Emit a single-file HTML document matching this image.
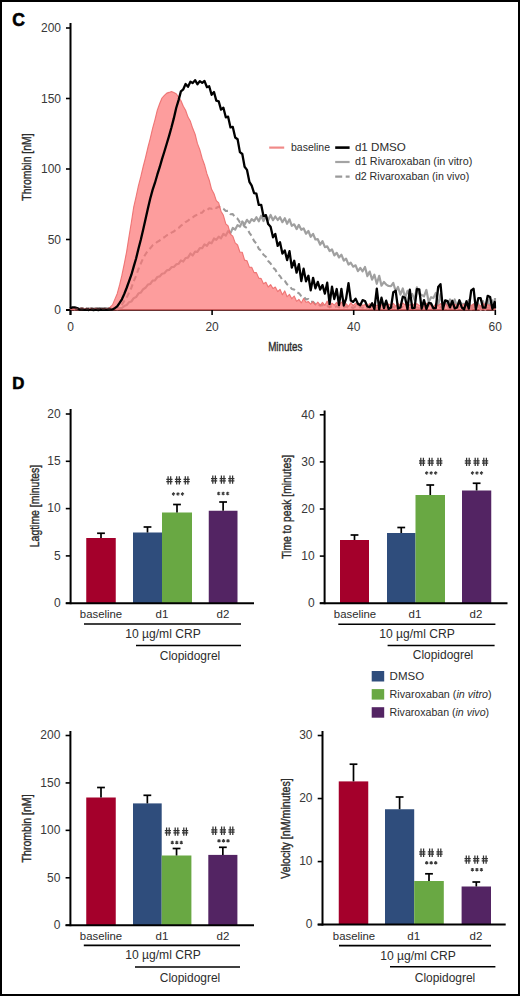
<!DOCTYPE html>
<html><head><meta charset="utf-8"><style>
html,body{margin:0;padding:0;background:#fff;}
body{width:520px;height:996px;overflow:hidden;}
svg{display:block;font-family:"Liberation Sans", sans-serif;}
</style></head><body>
<svg width="520" height="996" viewBox="0 0 520 996">
<rect x="0" y="0" width="520" height="996" fill="#fff"/>
<line x1="70.50" y1="23.00" x2="70.50" y2="315.00" stroke="#000" stroke-width="2"/>
<line x1="66.00" y1="310.00" x2="496.00" y2="310.00" stroke="#000" stroke-width="2"/>
<polyline points="70.0,309.3 72.4,308.3 74.7,309.3 77.1,308.4 79.4,309.1 81.8,308.1 84.2,309.6 86.5,308.7 88.9,309.6 91.2,308.5 93.6,309.2 96.0,308.1 98.3,309.5 100.7,308.0 103.0,308.8 105.4,308.1 107.8,309.2 110.1,308.1 112.5,309.3 114.8,308.3 117.2,309.2 119.6,308.2 121.9,308.0 124.3,306.1 126.6,305.1 129.0,302.2 131.4,301.5 133.7,298.2 136.1,297.1 138.4,293.6 140.8,292.6 143.2,289.2 145.5,287.8 147.9,284.6 150.2,284.0 152.6,280.7 155.0,280.3 157.3,277.0 159.7,276.4 162.0,273.8 164.4,273.2 166.8,270.4 169.1,269.9 171.5,267.2 173.8,266.9 176.2,264.4 178.6,263.8 180.9,260.4 183.3,261.5 185.6,258.0 188.0,257.6 190.4,253.5 192.7,255.5 195.1,251.7 197.4,251.8 199.8,248.1 202.2,248.1 204.5,244.4 206.9,245.8 209.2,242.4 211.6,243.3 214.0,238.5 216.3,239.8 218.7,236.7 221.0,238.3 223.4,233.9 225.8,235.6 228.1,231.2 230.5,233.1 232.8,227.9 235.2,229.6 237.6,225.1 239.9,226.7 242.3,221.4 244.6,224.6 247.0,219.8 249.4,222.9 251.7,219.1 254.1,221.1 256.4,217.2 258.8,221.3 261.2,215.7 263.5,221.1 265.9,216.1 268.2,220.3 270.6,215.0 273.0,220.2 275.3,216.5 277.7,220.0 280.0,217.2 282.4,222.2 284.8,218.2 287.1,223.8 289.5,219.3 291.8,225.8 294.2,224.3 296.6,229.1 298.9,224.9 301.3,229.8 303.6,228.3 306.0,233.7 308.4,231.0 310.7,236.8 313.1,233.9 315.4,239.5 317.8,239.2 320.2,244.7 322.5,241.2 324.9,247.1 327.2,246.3 329.6,251.1 332.0,249.3 334.3,255.4 336.7,252.8 339.0,257.4 341.4,254.7 343.8,260.7 346.1,258.7 348.5,264.6 350.8,262.7 353.2,266.7 355.6,265.3 357.9,271.2 360.3,268.0 362.6,271.3 365.0,267.0 367.4,276.1 369.7,271.6 372.1,279.6 374.4,274.7 376.8,283.8 379.2,275.8 381.5,285.7 383.9,282.0 386.2,284.6 388.6,286.0 391.0,286.1 393.3,283.0 395.7,291.3 398.0,287.0 400.4,294.7 402.8,288.5 405.1,297.7 407.5,290.8 409.8,295.9 412.2,294.0 414.6,299.8 416.9,287.3 419.3,293.8 421.6,294.9 424.0,296.4 426.4,290.0 428.7,302.1 431.1,297.2 433.4,298.1 435.8,292.9 438.2,305.4 440.5,294.2 442.9,306.1 445.2,301.4 447.6,306.1 450.0,299.5 452.3,305.3 454.7,299.5 457.0,306.8 459.4,300.6 461.8,304.2 464.1,303.8 466.5,304.7 468.8,300.0 471.2,309.3 473.6,304.5 475.9,306.1 478.3,303.6 480.6,310.0 483.0,301.0 485.4,309.8 487.7,299.2 490.1,307.8 492.4,300.3 494.8,310.0 495.0,298.1" fill="none" stroke="#A0A0A0" stroke-width="2.2" stroke-linejoin="round"/>
<polyline points="70.0,308.8 72.4,308.3 74.7,308.9 77.1,308.1 79.4,308.9 81.8,308.2 84.2,308.8 86.5,308.2 88.9,308.8 91.2,308.2 93.6,308.6 96.0,308.3 98.3,308.6 100.7,308.1 103.0,308.7 105.4,308.2 107.8,308.7 110.1,308.3 112.5,308.6 114.8,308.3 117.2,308.6 119.6,306.6 121.9,304.6 124.3,300.9 126.6,297.6 129.0,292.7 131.4,287.7 133.7,281.3 136.1,275.8 138.4,269.2 140.8,263.6 143.2,258.0 145.5,254.3 147.9,250.6 150.2,248.3 152.6,245.3 155.0,243.8 157.3,241.8 159.7,240.5 162.0,238.4 164.4,237.2 166.8,235.3 169.1,234.6 171.5,232.6 173.8,231.5 176.2,229.5 178.6,228.1 180.9,225.7 183.3,224.4 185.6,222.1 188.0,220.7 190.4,218.5 192.7,217.4 195.1,215.7 197.4,214.6 199.8,212.9 202.2,212.7 204.5,209.9 206.9,210.3 209.2,208.2 211.6,208.8 214.0,207.2 216.3,208.0 218.7,206.6 221.0,208.3 223.4,208.7 225.8,211.0 228.1,210.9 230.5,214.2 232.8,214.1 235.2,217.6 237.6,218.7 239.9,222.4 242.3,223.2 244.6,226.6 247.0,228.1 249.4,232.8 251.7,235.9 254.1,241.1 256.4,243.5 258.8,248.9 261.2,250.7 263.5,254.8 265.9,256.7 268.2,261.1 270.6,263.4 273.0,267.6 275.3,269.6 277.7,274.3 280.0,276.0 282.4,280.1 284.8,280.9 287.1,284.3 289.5,285.7 291.8,289.0 294.2,289.6 296.6,292.2 298.9,293.2 301.3,296.2 303.6,296.4 306.0,299.5 308.4,299.0 310.7,301.7 313.1,301.9 315.4,304.3 317.8,303.8 320.2,305.7 322.5,305.0 324.9,306.4 327.2,306.1 329.6,307.4 332.0,306.2 334.3,307.1 336.7,306.3 339.0,307.4 341.4,306.7 343.8,307.5 346.1,306.3 348.5,308.0 350.8,306.8 353.2,308.0 355.6,306.4 357.9,308.1 360.3,306.9 362.6,307.7 365.0,306.6 367.4,308.4 369.7,307.2 372.1,307.9 374.4,306.7 376.8,308.3 379.2,307.0 381.5,307.9 383.9,307.3 386.2,308.3 388.6,306.8 391.0,308.6 393.3,306.8 395.7,308.2 398.0,306.8 400.4,307.9 402.8,306.9 405.1,308.5 407.5,307.4 409.8,308.3 412.2,307.3 414.6,308.2 416.9,307.3 419.3,308.2 421.6,307.4 424.0,308.5 426.4,307.5 428.7,308.5 431.1,307.4 433.4,308.5 435.8,307.3 438.2,308.4 440.5,307.1 442.9,308.2 445.2,307.5 447.6,308.7 450.0,307.2 452.3,308.2 454.7,307.0 457.0,308.8 459.4,307.0 461.8,308.7 464.1,307.6 466.5,308.8 468.8,307.2 471.2,308.9 473.6,307.2 475.9,308.1 478.3,306.9 480.6,308.3 483.0,307.1 485.4,308.5 487.7,307.6 490.1,308.3 492.4,307.2 494.8,308.5 495.0,307.2" fill="none" stroke="#9A9A9A" stroke-width="2.1" stroke-dasharray="5.5 3.5" stroke-linejoin="round"/>
<polygon points="70,310 70.0,308.8 72.4,308.1 74.7,309.0 77.1,308.5 79.4,308.8 81.8,308.1 84.2,309.0 86.5,308.4 88.9,309.0 91.2,308.4 93.6,309.1 96.0,308.4 98.3,309.1 100.7,308.6 103.0,309.2 105.4,308.6 107.8,309.1 110.1,307.1 112.5,304.9 114.8,299.4 117.2,293.7 119.6,284.9 121.9,275.2 124.3,263.6 126.6,251.8 129.0,236.6 131.4,222.0 133.7,207.2 136.1,196.5 138.4,185.9 140.8,176.7 143.2,166.5 145.5,157.6 147.9,147.5 150.2,138.6 152.6,128.3 155.0,119.6 157.3,110.2 159.7,103.5 162.0,98.0 164.4,95.3 166.8,93.1 169.1,92.4 171.5,91.6 173.8,92.6 176.2,93.8 178.6,97.1 180.9,100.5 183.3,106.2 185.6,110.2 188.0,117.1 190.4,121.3 192.7,128.3 195.1,134.1 197.4,143.4 199.8,149.6 202.2,158.4 204.5,164.7 206.9,173.7 209.2,180.0 211.6,189.3 214.0,193.7 216.3,200.6 218.7,202.9 221.0,211.2 223.4,215.3 225.8,223.8 228.1,225.8 230.5,234.3 232.8,236.1 235.2,242.9 237.6,245.0 239.9,252.0 242.3,252.3 244.6,260.1 247.0,260.8 249.4,267.1 251.7,267.2 254.1,272.6 256.4,272.6 258.8,278.1 261.2,278.6 263.5,283.8 265.9,282.3 268.2,287.0 270.6,284.6 273.0,288.5 275.3,287.0 277.7,291.6 280.0,289.3 282.4,294.8 284.8,290.9 287.1,296.7 289.5,294.4 291.8,298.7 294.2,296.0 296.6,301.3 298.9,299.4 301.3,302.9 303.6,298.6 306.0,302.2 308.4,301.6 310.7,304.1 313.1,301.7 315.4,305.0 317.8,302.1 320.2,305.1 322.5,302.4 324.9,305.3 327.2,301.1 329.6,307.2 332.0,303.1 334.3,305.2 336.7,302.4 339.0,305.3 341.4,302.0 343.8,304.8 346.1,303.7 348.5,306.4 350.8,302.7 353.2,305.6 355.6,303.2 357.9,305.6 360.3,303.2 362.6,305.5 365.0,304.5 367.4,306.3 369.7,303.7 372.1,305.8 374.4,303.3 376.8,305.8 379.2,304.2 381.5,304.9 383.9,303.5 386.2,305.9 388.6,304.1 391.0,305.3 393.3,303.3 395.7,306.4 398.0,303.4 400.4,305.4 402.8,302.9 405.1,304.8 407.5,303.7 409.8,305.3 412.2,303.3 414.6,305.6 416.9,303.6 419.3,305.7 421.6,303.8 424.0,306.8 426.4,303.3 428.7,306.4 431.1,304.3 433.4,307.2 435.8,303.6 438.2,305.9 440.5,303.6 442.9,305.4 445.2,303.2 447.6,306.0 450.0,303.7 452.3,305.9 454.7,303.8 457.0,305.7 459.4,304.2 461.8,305.6 464.1,304.1 466.5,306.9 468.8,305.0 471.2,305.5 473.6,303.9 475.9,306.8 478.3,304.6 480.6,306.1 483.0,303.1 485.4,305.1 487.7,304.7 490.1,305.4 492.4,304.6 494.8,306.6 495.0,304.1 495,310" fill="#FC7473" fill-opacity="0.7" stroke="#EC6C6C" stroke-opacity="0.9" stroke-width="1.1" stroke-linejoin="round"/>
<polyline points="70.0,308.3 72.4,307.4 74.7,307.4 77.1,308.1 79.4,309.5 81.8,309.7 84.2,309.8 86.5,309.7 88.9,310.0 91.2,309.5 93.6,310.0 96.0,309.7 98.3,310.0 100.7,309.5 103.0,309.9 105.4,309.6 107.8,309.8 110.1,309.7 112.5,309.5 114.8,308.2 117.2,306.4 119.6,302.9 121.9,299.3 124.3,293.9 126.6,288.0 129.0,281.3 131.4,274.7 133.7,266.6 136.1,258.5 138.4,249.0 140.8,239.7 143.2,229.4 145.5,219.3 147.9,208.5 150.2,198.8 152.6,189.9 155.0,182.7 157.3,174.7 159.7,167.2 162.0,159.1 164.4,151.5 166.8,143.5 169.1,135.8 171.5,127.3 173.8,118.4 176.2,108.0 178.6,100.1 180.9,91.4 183.3,89.3 185.6,84.0 188.0,86.8 190.4,81.7 192.7,83.1 195.1,80.1 197.4,84.3 199.8,81.1 202.2,82.9 204.5,81.0 206.9,87.2 209.2,86.3 211.6,94.8 214.0,92.0 216.3,100.6 218.7,101.3 221.0,109.6 223.4,107.7 225.8,117.3 228.1,116.7 230.5,127.4 232.8,126.9 235.2,137.5 237.6,139.2 239.9,152.1 242.3,154.0 244.6,166.8 247.0,169.9 249.4,181.8 251.7,185.6 254.1,193.2 256.4,193.7 258.8,204.9 261.2,204.8 263.5,216.2 265.9,215.1 268.2,224.1 270.6,226.8 273.0,237.3 275.3,234.0 277.7,245.9 280.0,242.2 282.4,253.6 284.8,250.5 287.1,260.1 289.5,251.2 291.8,267.5 294.2,260.8 296.6,272.7 298.9,264.2 301.3,281.0 303.6,268.6 306.0,281.4 308.4,275.7 310.7,290.4 313.1,277.8 315.4,288.3 317.8,281.9 320.2,289.6 322.5,285.1 324.9,293.6 327.2,282.7 329.6,304.2 332.0,286.7 334.3,299.1 336.7,289.0 339.0,305.1 341.4,288.8 343.8,305.5 346.1,298.7 348.5,283.1 350.8,300.5 353.2,301.9 355.6,298.6 357.9,303.7 360.3,305.2 362.6,300.1 365.0,301.0 367.4,306.5 369.7,307.2 372.1,303.3 374.4,309.1 376.8,288.6 379.2,309.4 381.5,297.7 383.9,308.1 386.2,300.7 388.6,308.9 391.0,307.5 393.3,292.2 395.7,290.8 398.0,308.5 400.4,307.5 402.8,296.7 405.1,297.7 407.5,309.2 409.8,289.7 412.2,308.1 414.6,307.9 416.9,289.1 419.3,289.4 421.6,308.6 424.0,300.1 426.4,309.0 428.7,303.0 431.1,303.5 433.4,308.3 435.8,308.0 438.2,287.0 440.5,284.1 442.9,309.2 445.2,300.3 447.6,301.1 450.0,307.4 452.3,300.8 454.7,308.4 457.0,307.5 459.4,300.3 461.8,307.5 464.1,309.4 466.5,301.3 468.8,308.6 471.2,290.4 473.6,288.8 475.9,309.3 478.3,298.2 480.6,298.1 483.0,307.6 485.4,307.7 487.7,295.8 490.1,297.0 492.4,308.9 494.8,302.0 495.0,308.4" fill="none" stroke="#000" stroke-width="2.3" stroke-linejoin="round"/>
<line x1="75" y1="308.6" x2="112" y2="308.6" stroke="#4a2a2a" stroke-width="1.6" stroke-dasharray="3.2 2.2"/>
<line x1="66.00" y1="310.00" x2="70.00" y2="310.00" stroke="#000" stroke-width="1.6"/>
<text x="61.00" y="314.30" font-size="12" text-anchor="end" font-weight="normal" fill="#383838">0</text>
<line x1="66.00" y1="239.50" x2="70.00" y2="239.50" stroke="#000" stroke-width="1.6"/>
<text x="61.00" y="243.80" font-size="12" text-anchor="end" font-weight="normal" fill="#383838">50</text>
<line x1="66.00" y1="169.00" x2="70.00" y2="169.00" stroke="#000" stroke-width="1.6"/>
<text x="61.00" y="173.30" font-size="12" text-anchor="end" font-weight="normal" fill="#383838">100</text>
<line x1="66.00" y1="98.50" x2="70.00" y2="98.50" stroke="#000" stroke-width="1.6"/>
<text x="61.00" y="102.80" font-size="12" text-anchor="end" font-weight="normal" fill="#383838">150</text>
<line x1="66.00" y1="28.00" x2="70.00" y2="28.00" stroke="#000" stroke-width="1.6"/>
<text x="61.00" y="32.30" font-size="12" text-anchor="end" font-weight="normal" fill="#383838">200</text>
<line x1="70.50" y1="310.00" x2="70.50" y2="315.00" stroke="#000" stroke-width="1.6"/>
<text x="70.50" y="330.50" font-size="12" text-anchor="middle" font-weight="normal" fill="#383838">0</text>
<line x1="212.10" y1="310.00" x2="212.10" y2="315.00" stroke="#000" stroke-width="1.6"/>
<text x="212.10" y="330.50" font-size="12" text-anchor="middle" font-weight="normal" fill="#383838">20</text>
<line x1="353.70" y1="310.00" x2="353.70" y2="315.00" stroke="#000" stroke-width="1.6"/>
<text x="353.70" y="330.50" font-size="12" text-anchor="middle" font-weight="normal" fill="#383838">40</text>
<line x1="495.30" y1="310.00" x2="495.30" y2="315.00" stroke="#000" stroke-width="1.6"/>
<text x="495.30" y="330.50" font-size="12" text-anchor="middle" font-weight="normal" fill="#383838">60</text>
<text x="285.30" y="351.00" font-size="13.4" text-anchor="middle" font-weight="normal" fill="#2c2c2c" textLength="34.30" lengthAdjust="spacingAndGlyphs" stroke="#2c2c2c" stroke-width="0.4">Minutes</text>
<text transform="translate(31.00,167.00) rotate(-90)" x="0" y="0" font-size="13.4" text-anchor="middle" font-weight="normal" fill="#2c2c2c" stroke="#2c2c2c" stroke-width="0.4" textLength="67.30" lengthAdjust="spacingAndGlyphs">Thrombin [nM]</text>
<text x="12.20" y="25.60" font-size="17.5" text-anchor="start" font-weight="bold" fill="#000" stroke="#000" stroke-width="0.6">C</text>
<line x1="269.20" y1="147.60" x2="284.20" y2="147.60" stroke="#F08A88" stroke-width="2.2"/>
<text x="291.00" y="151.00" font-size="10.5" text-anchor="start" font-weight="normal" fill="#2c2c2c" textLength="39.00" lengthAdjust="spacingAndGlyphs">baseline</text>
<line x1="335.20" y1="147.60" x2="349.60" y2="147.60" stroke="#000" stroke-width="2.6"/>
<text x="354.90" y="151.00" font-size="11" text-anchor="start" font-weight="normal" fill="#2c2c2c" textLength="51.00" lengthAdjust="spacingAndGlyphs">d1 DMSO</text>
<line x1="335.20" y1="162.00" x2="349.60" y2="162.00" stroke="#A3A3A3" stroke-width="2.2"/>
<text x="354.90" y="165.30" font-size="11" text-anchor="start" font-weight="normal" fill="#2c2c2c" textLength="117.40" lengthAdjust="spacingAndGlyphs">d1 Rivaroxaban (in vitro)</text>
<line x1="335.20" y1="176.70" x2="349.60" y2="176.70" stroke="#9A9A9A" stroke-width="2.2" stroke-dasharray="7 3.5"/>
<text x="354.90" y="179.80" font-size="11" text-anchor="start" font-weight="normal" fill="#2c2c2c" textLength="114.30" lengthAdjust="spacingAndGlyphs">d2 Rivaroxaban (in vivo)</text>
<text x="12.20" y="388.50" font-size="16.8" text-anchor="start" font-weight="bold" fill="#000" stroke="#000" stroke-width="0.6">D</text>
<rect x="86.25" y="538.00" width="29.50" height="65.20" fill="#A4002B"/>
<line x1="101.00" y1="538.00" x2="101.00" y2="533.25" stroke="#000" stroke-width="1.7"/>
<line x1="97.10" y1="533.25" x2="104.90" y2="533.25" stroke="#000" stroke-width="1.7"/>
<rect x="133.00" y="532.50" width="29.00" height="70.70" fill="#2F4D7C"/>
<line x1="147.50" y1="532.50" x2="147.50" y2="527.00" stroke="#000" stroke-width="1.7"/>
<line x1="143.60" y1="527.00" x2="151.40" y2="527.00" stroke="#000" stroke-width="1.7"/>
<rect x="162.00" y="512.50" width="30.00" height="90.70" fill="#69A843"/>
<line x1="177.00" y1="512.50" x2="177.00" y2="504.50" stroke="#000" stroke-width="1.7"/>
<line x1="173.10" y1="504.50" x2="180.90" y2="504.50" stroke="#000" stroke-width="1.7"/>
<rect x="208.75" y="510.75" width="28.75" height="92.45" fill="#532463"/>
<line x1="223.12" y1="510.75" x2="223.12" y2="502.00" stroke="#000" stroke-width="1.7"/>
<line x1="219.22" y1="502.00" x2="227.03" y2="502.00" stroke="#000" stroke-width="1.7"/>
<line x1="70.60" y1="409.00" x2="70.60" y2="604.20" stroke="#000" stroke-width="2"/>
<line x1="65.80" y1="603.20" x2="254.00" y2="603.20" stroke="#000" stroke-width="2"/>
<line x1="65.80" y1="603.20" x2="70.60" y2="603.20" stroke="#000" stroke-width="1.6"/>
<text x="60.60" y="607.00" font-size="12" text-anchor="end" font-weight="normal" fill="#383838">0</text>
<line x1="65.80" y1="555.90" x2="70.60" y2="555.90" stroke="#000" stroke-width="1.6"/>
<text x="60.60" y="559.70" font-size="12" text-anchor="end" font-weight="normal" fill="#383838">5</text>
<line x1="65.80" y1="508.60" x2="70.60" y2="508.60" stroke="#000" stroke-width="1.6"/>
<text x="60.60" y="512.40" font-size="12" text-anchor="end" font-weight="normal" fill="#383838">10</text>
<line x1="65.80" y1="461.30" x2="70.60" y2="461.30" stroke="#000" stroke-width="1.6"/>
<text x="60.60" y="465.10" font-size="12" text-anchor="end" font-weight="normal" fill="#383838">15</text>
<line x1="65.80" y1="414.00" x2="70.60" y2="414.00" stroke="#000" stroke-width="1.6"/>
<text x="60.60" y="417.80" font-size="12" text-anchor="end" font-weight="normal" fill="#383838">20</text>
<text transform="translate(38.50,506.00) rotate(-90)" x="0" y="0" font-size="13.6" text-anchor="middle" font-weight="normal" fill="#2c2c2c" stroke="#2c2c2c" stroke-width="0.4" textLength="82.50" lengthAdjust="spacingAndGlyphs">Lagtime [minutes]</text>
<text x="101.00" y="618.30" font-size="11.5" text-anchor="middle" font-weight="normal" fill="#2c2c2c" textLength="42.30" lengthAdjust="spacingAndGlyphs">baseline</text>
<text x="162.00" y="618.30" font-size="11.5" text-anchor="middle" font-weight="normal" fill="#2c2c2c">d1</text>
<text x="223.00" y="618.30" font-size="11.5" text-anchor="middle" font-weight="normal" fill="#2c2c2c">d2</text>
<line x1="84.00" y1="624.00" x2="241.00" y2="624.00" stroke="#000" stroke-width="1.6"/>
<text x="163.00" y="637.50" font-size="12" text-anchor="middle" font-weight="normal" fill="#2c2c2c" textLength="75.50" lengthAdjust="spacingAndGlyphs">10 µg/ml CRP</text>
<line x1="136.00" y1="645.50" x2="241.00" y2="645.50" stroke="#000" stroke-width="1.6"/>
<text x="190.00" y="659.50" font-size="12" text-anchor="middle" font-weight="normal" fill="#2c2c2c" textLength="60.50" lengthAdjust="spacingAndGlyphs">Clopidogrel</text>
<path d="M168.10,476.20V484.60M170.70,476.20V484.60M166.30,479.48H172.50M166.30,481.74H172.50" stroke="#333" stroke-width="1.25" fill="none"/>
<path d="M176.70,476.20V484.60M179.30,476.20V484.60M174.90,479.48H181.10M174.90,481.74H181.10" stroke="#333" stroke-width="1.25" fill="none"/>
<path d="M185.30,476.20V484.60M187.90,476.20V484.60M183.50,479.48H189.70M183.50,481.74H189.70" stroke="#333" stroke-width="1.25" fill="none"/>
<path d="M173.50,492.25L173.50,495.75M171.98,493.12L175.02,494.88M175.02,493.12L171.98,494.88" stroke="#3a3a3a" stroke-width="1.1" fill="none"/>
<path d="M178.00,492.25L178.00,495.75M176.48,493.12L179.52,494.88M179.52,493.12L176.48,494.88" stroke="#3a3a3a" stroke-width="1.1" fill="none"/>
<path d="M182.50,492.25L182.50,495.75M180.98,493.12L184.02,494.88M184.02,493.12L180.98,494.88" stroke="#3a3a3a" stroke-width="1.1" fill="none"/>
<path d="M212.80,475.40V483.80M215.40,475.40V483.80M211.00,478.68H217.20M211.00,480.94H217.20" stroke="#333" stroke-width="1.25" fill="none"/>
<path d="M221.40,475.40V483.80M224.00,475.40V483.80M219.60,478.68H225.80M219.60,480.94H225.80" stroke="#333" stroke-width="1.25" fill="none"/>
<path d="M230.00,475.40V483.80M232.60,475.40V483.80M228.20,478.68H234.40M228.20,480.94H234.40" stroke="#333" stroke-width="1.25" fill="none"/>
<path d="M218.70,491.75L218.70,495.25M217.18,492.62L220.22,494.38M220.22,492.62L217.18,494.38" stroke="#3a3a3a" stroke-width="1.1" fill="none"/>
<path d="M223.20,491.75L223.20,495.25M221.68,492.62L224.72,494.38M224.72,492.62L221.68,494.38" stroke="#3a3a3a" stroke-width="1.1" fill="none"/>
<path d="M227.70,491.75L227.70,495.25M226.18,492.62L229.22,494.38M229.22,492.62L226.18,494.38" stroke="#3a3a3a" stroke-width="1.1" fill="none"/>
<rect x="340.00" y="540.00" width="29.00" height="63.20" fill="#A4002B"/>
<line x1="354.50" y1="540.00" x2="354.50" y2="535.00" stroke="#000" stroke-width="1.7"/>
<line x1="350.60" y1="535.00" x2="358.40" y2="535.00" stroke="#000" stroke-width="1.7"/>
<rect x="387.00" y="533.00" width="28.50" height="70.20" fill="#2F4D7C"/>
<line x1="401.25" y1="533.00" x2="401.25" y2="527.50" stroke="#000" stroke-width="1.7"/>
<line x1="397.35" y1="527.50" x2="405.15" y2="527.50" stroke="#000" stroke-width="1.7"/>
<rect x="415.50" y="495.00" width="29.50" height="108.20" fill="#69A843"/>
<line x1="430.25" y1="495.00" x2="430.25" y2="485.00" stroke="#000" stroke-width="1.7"/>
<line x1="426.35" y1="485.00" x2="434.15" y2="485.00" stroke="#000" stroke-width="1.7"/>
<rect x="462.00" y="490.50" width="29.25" height="112.70" fill="#532463"/>
<line x1="476.62" y1="490.50" x2="476.62" y2="483.25" stroke="#000" stroke-width="1.7"/>
<line x1="472.73" y1="483.25" x2="480.52" y2="483.25" stroke="#000" stroke-width="1.7"/>
<line x1="324.60" y1="410.50" x2="324.60" y2="604.20" stroke="#000" stroke-width="2"/>
<line x1="319.80" y1="603.20" x2="507.50" y2="603.20" stroke="#000" stroke-width="2"/>
<line x1="319.80" y1="603.20" x2="324.60" y2="603.20" stroke="#000" stroke-width="1.6"/>
<text x="314.60" y="607.00" font-size="12" text-anchor="end" font-weight="normal" fill="#383838">0</text>
<line x1="319.80" y1="556.10" x2="324.60" y2="556.10" stroke="#000" stroke-width="1.6"/>
<text x="314.60" y="559.90" font-size="12" text-anchor="end" font-weight="normal" fill="#383838">10</text>
<line x1="319.80" y1="509.00" x2="324.60" y2="509.00" stroke="#000" stroke-width="1.6"/>
<text x="314.60" y="512.80" font-size="12" text-anchor="end" font-weight="normal" fill="#383838">20</text>
<line x1="319.80" y1="461.90" x2="324.60" y2="461.90" stroke="#000" stroke-width="1.6"/>
<text x="314.60" y="465.70" font-size="12" text-anchor="end" font-weight="normal" fill="#383838">30</text>
<line x1="319.80" y1="414.80" x2="324.60" y2="414.80" stroke="#000" stroke-width="1.6"/>
<text x="314.60" y="418.60" font-size="12" text-anchor="end" font-weight="normal" fill="#383838">40</text>
<text transform="translate(291.40,506.80) rotate(-90)" x="0" y="0" font-size="13.6" text-anchor="middle" font-weight="normal" fill="#2c2c2c" stroke="#2c2c2c" stroke-width="0.4" textLength="104.00" lengthAdjust="spacingAndGlyphs">Time to peak [minutes]</text>
<text x="355.00" y="618.00" font-size="11.5" text-anchor="middle" font-weight="normal" fill="#2c2c2c" textLength="42.30" lengthAdjust="spacingAndGlyphs">baseline</text>
<text x="415.00" y="618.00" font-size="11.5" text-anchor="middle" font-weight="normal" fill="#2c2c2c">d1</text>
<text x="476.00" y="618.00" font-size="11.5" text-anchor="middle" font-weight="normal" fill="#2c2c2c">d2</text>
<line x1="338.30" y1="624.30" x2="495.40" y2="624.30" stroke="#000" stroke-width="1.6"/>
<text x="417.00" y="637.50" font-size="12" text-anchor="middle" font-weight="normal" fill="#2c2c2c" textLength="75.50" lengthAdjust="spacingAndGlyphs">10 µg/ml CRP</text>
<line x1="387.60" y1="645.50" x2="494.60" y2="645.50" stroke="#000" stroke-width="1.6"/>
<text x="443.00" y="659.40" font-size="12" text-anchor="middle" font-weight="normal" fill="#2c2c2c" textLength="60.50" lengthAdjust="spacingAndGlyphs">Clopidogrel</text>
<path d="M420.80,457.70V466.10M423.40,457.70V466.10M419.00,460.98H425.20M419.00,463.24H425.20" stroke="#333" stroke-width="1.25" fill="none"/>
<path d="M429.40,457.70V466.10M432.00,457.70V466.10M427.60,460.98H433.80M427.60,463.24H433.80" stroke="#333" stroke-width="1.25" fill="none"/>
<path d="M438.00,457.70V466.10M440.60,457.70V466.10M436.20,460.98H442.40M436.20,463.24H442.40" stroke="#333" stroke-width="1.25" fill="none"/>
<path d="M426.70,471.25L426.70,474.75M425.18,472.12L428.22,473.88M428.22,472.12L425.18,473.88" stroke="#3a3a3a" stroke-width="1.1" fill="none"/>
<path d="M431.20,471.25L431.20,474.75M429.68,472.12L432.72,473.88M432.72,472.12L429.68,473.88" stroke="#3a3a3a" stroke-width="1.1" fill="none"/>
<path d="M435.70,471.25L435.70,474.75M434.18,472.12L437.22,473.88M437.22,472.12L434.18,473.88" stroke="#3a3a3a" stroke-width="1.1" fill="none"/>
<path d="M466.60,457.70V466.10M469.20,457.70V466.10M464.80,460.98H471.00M464.80,463.24H471.00" stroke="#333" stroke-width="1.25" fill="none"/>
<path d="M475.20,457.70V466.10M477.80,457.70V466.10M473.40,460.98H479.60M473.40,463.24H479.60" stroke="#333" stroke-width="1.25" fill="none"/>
<path d="M483.80,457.70V466.10M486.40,457.70V466.10M482.00,460.98H488.20M482.00,463.24H488.20" stroke="#333" stroke-width="1.25" fill="none"/>
<path d="M472.50,471.25L472.50,474.75M470.98,472.12L474.02,473.88M474.02,472.12L470.98,473.88" stroke="#3a3a3a" stroke-width="1.1" fill="none"/>
<path d="M477.00,471.25L477.00,474.75M475.48,472.12L478.52,473.88M478.52,472.12L475.48,473.88" stroke="#3a3a3a" stroke-width="1.1" fill="none"/>
<path d="M481.50,471.25L481.50,474.75M479.98,472.12L483.02,473.88M483.02,472.12L479.98,473.88" stroke="#3a3a3a" stroke-width="1.1" fill="none"/>
<rect x="86.25" y="797.50" width="29.50" height="127.70" fill="#A4002B"/>
<line x1="101.00" y1="797.50" x2="101.00" y2="787.50" stroke="#000" stroke-width="1.7"/>
<line x1="97.10" y1="787.50" x2="104.90" y2="787.50" stroke="#000" stroke-width="1.7"/>
<rect x="133.00" y="803.40" width="28.70" height="121.80" fill="#2F4D7C"/>
<line x1="147.35" y1="803.40" x2="147.35" y2="795.30" stroke="#000" stroke-width="1.7"/>
<line x1="143.45" y1="795.30" x2="151.25" y2="795.30" stroke="#000" stroke-width="1.7"/>
<rect x="161.70" y="855.50" width="29.70" height="69.70" fill="#69A843"/>
<line x1="176.55" y1="855.50" x2="176.55" y2="848.50" stroke="#000" stroke-width="1.7"/>
<line x1="172.65" y1="848.50" x2="180.45" y2="848.50" stroke="#000" stroke-width="1.7"/>
<rect x="208.30" y="854.90" width="29.10" height="70.30" fill="#532463"/>
<line x1="222.85" y1="854.90" x2="222.85" y2="847.30" stroke="#000" stroke-width="1.7"/>
<line x1="218.95" y1="847.30" x2="226.75" y2="847.30" stroke="#000" stroke-width="1.7"/>
<line x1="70.40" y1="731.00" x2="70.40" y2="926.20" stroke="#000" stroke-width="2"/>
<line x1="65.60" y1="925.20" x2="254.00" y2="925.20" stroke="#000" stroke-width="2"/>
<line x1="65.60" y1="925.20" x2="70.40" y2="925.20" stroke="#000" stroke-width="1.6"/>
<text x="60.40" y="929.00" font-size="12" text-anchor="end" font-weight="normal" fill="#383838">0</text>
<line x1="65.60" y1="877.78" x2="70.40" y2="877.78" stroke="#000" stroke-width="1.6"/>
<text x="60.40" y="881.58" font-size="12" text-anchor="end" font-weight="normal" fill="#383838">50</text>
<line x1="65.60" y1="830.35" x2="70.40" y2="830.35" stroke="#000" stroke-width="1.6"/>
<text x="60.40" y="834.15" font-size="12" text-anchor="end" font-weight="normal" fill="#383838">100</text>
<line x1="65.60" y1="782.93" x2="70.40" y2="782.93" stroke="#000" stroke-width="1.6"/>
<text x="60.40" y="786.73" font-size="12" text-anchor="end" font-weight="normal" fill="#383838">150</text>
<line x1="65.60" y1="735.50" x2="70.40" y2="735.50" stroke="#000" stroke-width="1.6"/>
<text x="60.40" y="739.30" font-size="12" text-anchor="end" font-weight="normal" fill="#383838">200</text>
<text transform="translate(31.30,828.40) rotate(-90)" x="0" y="0" font-size="13.6" text-anchor="middle" font-weight="normal" fill="#2c2c2c" stroke="#2c2c2c" stroke-width="0.4" textLength="68.00" lengthAdjust="spacingAndGlyphs">Thrombin [nM]</text>
<text x="101.00" y="940.00" font-size="11.5" text-anchor="middle" font-weight="normal" fill="#2c2c2c" textLength="42.30" lengthAdjust="spacingAndGlyphs">baseline</text>
<text x="162.00" y="940.00" font-size="11.5" text-anchor="middle" font-weight="normal" fill="#2c2c2c">d1</text>
<text x="223.00" y="940.00" font-size="11.5" text-anchor="middle" font-weight="normal" fill="#2c2c2c">d2</text>
<line x1="83.80" y1="945.40" x2="240.00" y2="945.40" stroke="#000" stroke-width="1.6"/>
<text x="163.00" y="959.20" font-size="12" text-anchor="middle" font-weight="normal" fill="#2c2c2c" textLength="75.50" lengthAdjust="spacingAndGlyphs">10 µg/ml CRP</text>
<line x1="135.00" y1="967.00" x2="240.00" y2="967.00" stroke="#000" stroke-width="1.6"/>
<text x="190.00" y="981.50" font-size="12" text-anchor="middle" font-weight="normal" fill="#2c2c2c" textLength="60.50" lengthAdjust="spacingAndGlyphs">Clopidogrel</text>
<path d="M166.60,827.40V835.80M169.20,827.40V835.80M164.80,830.68H171.00M164.80,832.94H171.00" stroke="#333" stroke-width="1.25" fill="none"/>
<path d="M175.20,827.40V835.80M177.80,827.40V835.80M173.40,830.68H179.60M173.40,832.94H179.60" stroke="#333" stroke-width="1.25" fill="none"/>
<path d="M183.80,827.40V835.80M186.40,827.40V835.80M182.00,830.68H188.20M182.00,832.94H188.20" stroke="#333" stroke-width="1.25" fill="none"/>
<path d="M172.30,840.85L172.30,844.35M170.78,841.73L173.82,843.48M173.82,841.73L170.78,843.48" stroke="#3a3a3a" stroke-width="1.1" fill="none"/>
<path d="M176.80,840.85L176.80,844.35M175.28,841.73L178.32,843.48M178.32,841.73L175.28,843.48" stroke="#3a3a3a" stroke-width="1.1" fill="none"/>
<path d="M181.30,840.85L181.30,844.35M179.78,841.73L182.82,843.48M182.82,841.73L179.78,843.48" stroke="#3a3a3a" stroke-width="1.1" fill="none"/>
<path d="M213.00,826.50V834.90M215.60,826.50V834.90M211.20,829.78H217.40M211.20,832.04H217.40" stroke="#333" stroke-width="1.25" fill="none"/>
<path d="M221.60,826.50V834.90M224.20,826.50V834.90M219.80,829.78H226.00M219.80,832.04H226.00" stroke="#333" stroke-width="1.25" fill="none"/>
<path d="M230.20,826.50V834.90M232.80,826.50V834.90M228.40,829.78H234.60M228.40,832.04H234.60" stroke="#333" stroke-width="1.25" fill="none"/>
<path d="M219.00,839.05L219.00,842.55M217.48,839.92L220.52,841.67M220.52,839.92L217.48,841.67" stroke="#3a3a3a" stroke-width="1.1" fill="none"/>
<path d="M223.50,839.05L223.50,842.55M221.98,839.92L225.02,841.67M225.02,839.92L221.98,841.67" stroke="#3a3a3a" stroke-width="1.1" fill="none"/>
<path d="M228.00,839.05L228.00,842.55M226.48,839.92L229.52,841.67M229.52,839.92L226.48,841.67" stroke="#3a3a3a" stroke-width="1.1" fill="none"/>
<rect x="338.75" y="781.40" width="29.50" height="143.20" fill="#A4002B"/>
<line x1="353.50" y1="781.40" x2="353.50" y2="764.20" stroke="#000" stroke-width="1.7"/>
<line x1="349.60" y1="764.20" x2="357.40" y2="764.20" stroke="#000" stroke-width="1.7"/>
<rect x="385.00" y="809.25" width="29.20" height="115.35" fill="#2F4D7C"/>
<line x1="399.60" y1="809.25" x2="399.60" y2="797.00" stroke="#000" stroke-width="1.7"/>
<line x1="395.70" y1="797.00" x2="403.50" y2="797.00" stroke="#000" stroke-width="1.7"/>
<rect x="414.20" y="881.00" width="29.60" height="43.60" fill="#69A843"/>
<line x1="429.00" y1="881.00" x2="429.00" y2="873.80" stroke="#000" stroke-width="1.7"/>
<line x1="425.10" y1="873.80" x2="432.90" y2="873.80" stroke="#000" stroke-width="1.7"/>
<rect x="461.60" y="886.50" width="29.40" height="38.10" fill="#532463"/>
<line x1="476.30" y1="886.50" x2="476.30" y2="882.00" stroke="#000" stroke-width="1.7"/>
<line x1="472.40" y1="882.00" x2="480.20" y2="882.00" stroke="#000" stroke-width="1.7"/>
<line x1="322.50" y1="731.00" x2="322.50" y2="925.60" stroke="#000" stroke-width="2"/>
<line x1="317.70" y1="924.60" x2="505.70" y2="924.60" stroke="#000" stroke-width="2"/>
<line x1="317.70" y1="924.60" x2="322.50" y2="924.60" stroke="#000" stroke-width="1.6"/>
<text x="312.50" y="928.40" font-size="12" text-anchor="end" font-weight="normal" fill="#383838">0</text>
<line x1="317.70" y1="861.57" x2="322.50" y2="861.57" stroke="#000" stroke-width="1.6"/>
<text x="312.50" y="865.37" font-size="12" text-anchor="end" font-weight="normal" fill="#383838">10</text>
<line x1="317.70" y1="798.54" x2="322.50" y2="798.54" stroke="#000" stroke-width="1.6"/>
<text x="312.50" y="802.34" font-size="12" text-anchor="end" font-weight="normal" fill="#383838">20</text>
<line x1="317.70" y1="735.51" x2="322.50" y2="735.51" stroke="#000" stroke-width="1.6"/>
<text x="312.50" y="739.31" font-size="12" text-anchor="end" font-weight="normal" fill="#383838">30</text>
<text transform="translate(290.00,828.50) rotate(-90)" x="0" y="0" font-size="13.6" text-anchor="middle" font-weight="normal" fill="#2c2c2c" stroke="#2c2c2c" stroke-width="0.4" textLength="100.50" lengthAdjust="spacingAndGlyphs">Velocity [nM/minutes]</text>
<text x="354.00" y="940.00" font-size="11.5" text-anchor="middle" font-weight="normal" fill="#2c2c2c" textLength="42.30" lengthAdjust="spacingAndGlyphs">baseline</text>
<text x="413.70" y="940.00" font-size="11.5" text-anchor="middle" font-weight="normal" fill="#2c2c2c">d1</text>
<text x="476.00" y="940.00" font-size="11.5" text-anchor="middle" font-weight="normal" fill="#2c2c2c">d2</text>
<line x1="339.00" y1="945.60" x2="491.00" y2="945.60" stroke="#000" stroke-width="1.6"/>
<text x="418.00" y="959.50" font-size="12" text-anchor="middle" font-weight="normal" fill="#2c2c2c" textLength="75.50" lengthAdjust="spacingAndGlyphs">10 µg/ml CRP</text>
<line x1="390.00" y1="966.80" x2="495.40" y2="966.80" stroke="#000" stroke-width="1.6"/>
<text x="445.00" y="982.00" font-size="12" text-anchor="middle" font-weight="normal" fill="#2c2c2c" textLength="60.50" lengthAdjust="spacingAndGlyphs">Clopidogrel</text>
<path d="M421.00,848.50V856.90M423.60,848.50V856.90M419.20,851.78H425.40M419.20,854.04H425.40" stroke="#333" stroke-width="1.25" fill="none"/>
<path d="M429.60,848.50V856.90M432.20,848.50V856.90M427.80,851.78H434.00M427.80,854.04H434.00" stroke="#333" stroke-width="1.25" fill="none"/>
<path d="M438.20,848.50V856.90M440.80,848.50V856.90M436.40,851.78H442.60M436.40,854.04H442.60" stroke="#333" stroke-width="1.25" fill="none"/>
<path d="M426.70,861.05L426.70,864.55M425.18,861.92L428.22,863.67M428.22,861.92L425.18,863.67" stroke="#3a3a3a" stroke-width="1.1" fill="none"/>
<path d="M431.20,861.05L431.20,864.55M429.68,861.92L432.72,863.67M432.72,861.92L429.68,863.67" stroke="#3a3a3a" stroke-width="1.1" fill="none"/>
<path d="M435.70,861.05L435.70,864.55M434.18,861.92L437.22,863.67M437.22,861.92L434.18,863.67" stroke="#3a3a3a" stroke-width="1.1" fill="none"/>
<path d="M466.30,855.40V863.80M468.90,855.40V863.80M464.50,858.68H470.70M464.50,860.94H470.70" stroke="#333" stroke-width="1.25" fill="none"/>
<path d="M474.90,855.40V863.80M477.50,855.40V863.80M473.10,858.68H479.30M473.10,860.94H479.30" stroke="#333" stroke-width="1.25" fill="none"/>
<path d="M483.50,855.40V863.80M486.10,855.40V863.80M481.70,858.68H487.90M481.70,860.94H487.90" stroke="#333" stroke-width="1.25" fill="none"/>
<path d="M472.40,867.95L472.40,871.45M470.88,868.83L473.92,870.58M473.92,868.83L470.88,870.58" stroke="#3a3a3a" stroke-width="1.1" fill="none"/>
<path d="M476.90,867.95L476.90,871.45M475.38,868.83L478.42,870.58M478.42,868.83L475.38,870.58" stroke="#3a3a3a" stroke-width="1.1" fill="none"/>
<path d="M481.40,867.95L481.40,871.45M479.88,868.83L482.92,870.58M482.92,868.83L479.88,870.58" stroke="#3a3a3a" stroke-width="1.1" fill="none"/>
<rect x="371.70" y="671.00" width="12.50" height="10.50" fill="#2F4D7C"/>
<text x="389.6" y="679.90" font-size="11.5" fill="#2c2c2c" textLength="34.5" lengthAdjust="spacingAndGlyphs">DMSO</text>
<rect x="371.70" y="689.10" width="12.50" height="10.50" fill="#69A843"/>
<text x="389.6" y="698.00" font-size="11.5" fill="#2c2c2c" textLength="102" lengthAdjust="spacingAndGlyphs">Rivaroxaban (<tspan font-style="italic">in vitro</tspan>)</text>
<rect x="371.70" y="707.20" width="12.50" height="10.50" fill="#532463"/>
<text x="389.6" y="716.10" font-size="11.5" fill="#2c2c2c" textLength="99.5" lengthAdjust="spacingAndGlyphs">Rivaroxaban (<tspan font-style="italic">in vivo</tspan>)</text>
<rect x="1" y="1" width="518" height="994" fill="none" stroke="#000" stroke-width="2"/>
</svg>
</body></html>
